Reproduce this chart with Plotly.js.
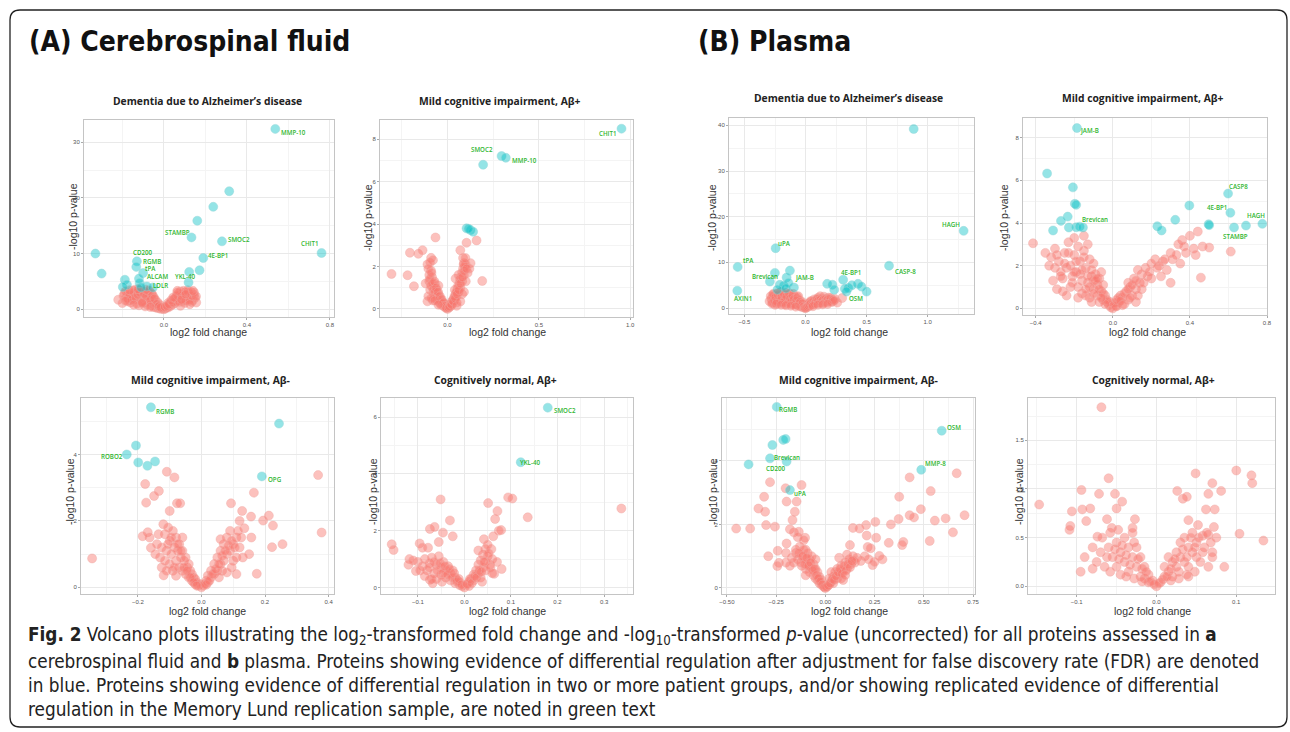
<!DOCTYPE html>
<html><head><meta charset="utf-8">
<script src="https://cdn.plot.ly/plotly-3.0.1.min.js"></script>
<style>html,body{margin:0;padding:0;background:#fff}#chart{width:1290px;height:732px}</style>
</head><body><div id="chart"></div>
<script>
// ---------------- DATA ----------------
const panelTitles = ["Dementia due to Alzheimer\u2019s disease","Mild cognitive impairment, A\u03b2+","Mild cognitive impairment, A\u03b2-","Cognitively normal, A\u03b2+",
                     "Dementia due to Alzheimer\u2019s disease","Mild cognitive impairment, A\u03b2+","Mild cognitive impairment, A\u03b2-","Cognitively normal, A\u03b2+"];
const headerA = "(A) Cerebrospinal fluid";
const headerB = "(B) Plasma";
const xTitle = "log2 fold change";
const yTitle = "-log10 p-value";

// Panel 1: CSF, Dementia
const p1_blue_x = [0.537,0.315,0.238,0.161,0.133,0.28,0.76,0.19,0.172,0.122,0.119,-0.33,-0.30,-0.13,-0.133,-0.10,-0.12,-0.117,-0.188,-0.178,-0.198,-0.082,-0.053,-0.11];
const p1_blue_y = [32.4,21.2,18.4,15.9,12.9,12.2,10.1,9.2,7.0,6.7,4.8,10.0,6.4,8.6,7.6,6.5,5.5,4.7,5.3,4.4,4.0,4.1,3.9,3.9];
const p1_red_x = [-0.22,-0.165,0.156,-0.19,-0.18,-0.17,-0.16,-0.15,-0.15,-0.14,-0.13,-0.13,-0.12,-0.12,-0.11,-0.11,-0.10,-0.10,-0.09,-0.09,-0.08,-0.08,-0.08,-0.07,-0.07,-0.06,-0.06,-0.06,-0.05,-0.05,-0.05,-0.04,-0.04,-0.04,-0.03,-0.03,-0.03,-0.02,-0.02,-0.01,-0.01,0,0.005,0.01,0.015,0.02,0.02,0.03,0.03,0.04,0.04,0.05,0.05,0.06,0.06,0.07,0.07,0.08,0.08,0.09,0.09,0.10,0.10,0.11,0.11,0.12,0.12,0.13,0.13,0.14,0.145,0.15,-0.2,-0.12,-0.09,0.08,0.1,-0.175,0.02,-0.02,-0.14,-0.07,0.115,0.065,-0.155,0.135];
const p1_red_y = [1.7,1.6,1.2,2.8,2.2,3.0,1.2,2.5,3.3,1.8,2.9,1.0,2.3,3.4,1.5,2.8,2.0,3.2,1.2,2.5,0.8,1.9,3.0,1.4,2.4,0.6,1.8,2.8,0.4,1.2,2.2,0.3,0.9,1.6,0.2,0.6,1.2,0.1,0.4,0.05,0.25,0.0,0.1,0.2,0.4,0.3,0.7,0.5,1.0,0.8,1.4,1.0,1.8,1.4,2.3,1.6,2.8,2.0,3.2,1.5,2.6,2.0,3.0,1.7,2.4,2.8,1.9,2.2,3.1,1.6,2.6,2.0,1.1,0.7,0.5,0.6,1.1,1.4,1.1,0.8,3.5,3.3,3.4,3.0,2.0,1.3];
const p1_red2_x = [-0.195,-0.185,-0.175,-0.165,-0.155,-0.145,-0.135,-0.125,-0.115,-0.105,-0.095,-0.085,-0.075,-0.065,-0.055,-0.045,-0.035,-0.025,-0.015,0.005,0.015,0.025,0.035,0.045,0.055,0.065,0.075,0.085,0.095,0.105,0.115,0.125,0.135,0.145,0.155,-0.185,-0.145,-0.105,-0.065,0.045,0.085,0.125,-0.165,-0.125,-0.085,0.065,0.105,0.14];
const p1_red2_y = [2.4,3.2,1.9,2.7,1.7,3.0,2.1,2.6,3.0,1.3,2.8,2.3,3.3,1.6,2.6,1.9,0.9,0.5,0.3,0.4,0.6,0.9,1.6,1.2,2.0,2.5,1.3,2.4,3.3,1.5,3.2,1.6,2.4,3.0,2.3,1.5,0.8,1.1,0.4,2.1,1.7,0.9,3.4,3.6,3.5,3.3,2.7,3.3];
const p1_lab = ["MMP-10","STAMBP","SMOC2","CHIT1","4E-BP1","YKL-40","CD200","RGMB","tPA","ALCAM","LDLR"];
const p1_lab_x = [0.627,0.064,0.36,0.705,0.262,0.102,-0.101,-0.056,-0.066,-0.03,-0.018];
const p1_lab_y = [31.7,13.8,12.5,11.8,9.6,5.9,10.1,8.6,7.3,5.9,4.3];

// Panel 2: CSF, MCI Ab+
const p2_blue_x = [0.953,0.296,0.319,0.195,0.104,0.126,0.14,0.115];
const p2_blue_y = [8.5,7.21,7.13,6.8,3.8,3.72,3.64,3.78];
const p2_red_x = [-0.307,-0.219,-0.184,-0.206,-0.16,-0.137,-0.066,-0.09,-0.08,-0.11,0.104,0.159,0.07,0.09,0.126,0.11,0.044,0.19,-0.09,-0.1,-0.095,-0.085,-0.08,-0.075,-0.07,-0.065,-0.06,-0.055,-0.05,-0.045,-0.04,-0.035,-0.03,-0.025,-0.02,-0.015,-0.01,0,0.01,0.015,0.02,0.025,0.03,0.035,0.04,0.045,0.05,0.055,0.06,0.065,0.07,0.075,0.08,0.085,0.09,0.095,0.1,0.085,0.06,-0.1,-0.12,-0.11,-0.08,0.05,-0.05,0.04,0.1,0.12,-0.095,-0.105,0.08];
const p2_red_y = [1.65,1.59,1.07,2.65,2.6,2.77,3.37,2.41,2.3,0.36,3.12,3.23,2.77,2.16,2.16,1.7,1.43,1.32,1.8,1.3,0.9,1.5,1.0,0.7,1.2,0.5,0.9,0.4,0.7,0.3,0.5,0.2,0.35,0.15,0.25,0.1,0.05,0,0.08,0.2,0.15,0.35,0.3,0.5,0.45,0.7,0.6,0.95,0.8,1.2,1.0,1.5,1.3,1.9,1.6,2.0,2.1,2.4,1.6,1.6,1.2,2.1,0.4,0.3,1.1,0.9,1.3,1.9,2.2,0.6,0.7];
const p2_red2_x = [-0.105,-0.098,-0.092,-0.088,-0.083,-0.078,-0.072,-0.068,-0.062,-0.058,-0.052,-0.048,-0.042,-0.038,-0.032,-0.028,-0.022,-0.018,-0.012,-0.006,0.006,0.012,0.018,0.022,0.028,0.032,0.038,0.042,0.048,0.052,0.058,0.062,0.068,0.072,0.078,0.082,0.088,0.092,0.098,0.105,-0.09,-0.07,-0.05,0.05,0.07,0.09];
const p2_red2_y = [1.9,1.4,1.1,1.7,1.2,0.9,1.3,0.8,1.0,0.6,0.8,0.45,0.6,0.35,0.45,0.25,0.3,0.15,0.12,0.05,0.06,0.12,0.25,0.2,0.4,0.35,0.6,0.5,0.8,0.7,1.1,0.9,1.4,1.2,1.7,1.5,2.1,1.8,2.4,1.9,0.5,0.4,0.2,0.15,0.35,0.8];
const p2_lab = ["CHIT1","SMOC2","MMP-10"];
const p2_lab_x = [0.88,0.19,0.423];
const p2_lab_y = [8.28,7.53,6.98];

// Panel 3: CSF, MCI Ab-
const p3_blue_x = [-0.159,0.244,-0.206,-0.235,-0.199,-0.17,-0.146,0.19];
const p3_blue_y = [5.42,4.93,4.27,4.0,3.76,3.66,3.79,3.34];
const p3_red_x = [-0.344,0.367,0.378,-0.109,-0.085,-0.177,-0.134,-0.149,-0.174,-0.077,-0.067,-0.1,0.165,0.093,0.128,0.156,0.212,0.194,0.225,0.12,0.135,0.157,0.222,0.255,0.174,-0.169,-0.163,-0.185,-0.159,-0.119,-0.12,-0.115,-0.11,-0.105,-0.1,-0.095,-0.09,-0.085,-0.08,-0.08,-0.075,-0.07,-0.07,-0.065,-0.06,-0.06,-0.055,-0.05,-0.05,-0.045,-0.04,-0.04,-0.035,-0.03,-0.03,-0.025,-0.02,-0.02,-0.015,-0.01,-0.005,0,0.005,0.01,0.015,0.02,0.02,0.03,0.03,0.04,0.04,0.05,0.05,0.06,0.06,0.07,0.07,0.08,0.08,0.09,0.09,0.1,0.1,0.11,0.11,-0.13,-0.09,0.065,0.055,-0.14,-0.125,0.12,0.095,-0.1,-0.06,0.06,0.13,0.15];
const p3_red_y = [0.87,3.38,1.65,3.48,3.31,3.11,2.9,2.75,2.55,2.53,2.53,2.3,2.85,2.53,2.3,2.13,2.16,2.01,1.86,2.0,1.78,1.5,1.21,1.3,0.41,1.66,1.5,1.54,1.19,0.36,1.9,1.6,1.1,1.8,1.4,1.0,1.7,1.2,0.8,1.5,1.1,0.6,1.3,0.9,0.5,1.1,0.8,0.4,0.9,0.6,0.3,0.7,0.5,0.2,0.4,0.3,0.1,0.25,0.15,0.05,0.1,0,0.05,0.1,0.2,0.15,0.35,0.3,0.5,0.4,0.7,0.5,0.9,0.7,1.1,0.8,1.3,1.0,1.5,1.1,1.7,1.3,0.8,1.5,0.9,0.9,0.5,0.5,0.3,1.3,0.6,1.2,0.6,0.7,1.5,1.45,0.9,1.0];
const p3_red2_x = [-0.145,-0.135,-0.125,-0.115,-0.105,-0.095,-0.085,-0.075,-0.065,-0.055,-0.045,-0.035,-0.025,-0.015,0.015,0.025,0.035,0.045,0.055,0.065,0.075,0.085,0.095,0.105,0.115,0.125,-0.11,-0.08,0.08,0.11];
const p3_red2_y = [1.0,1.6,1.2,0.8,1.3,1.5,0.6,1.3,1.1,0.6,0.5,0.3,0.15,0.05,0.08,0.2,0.4,0.55,0.7,0.95,1.1,1.25,1.4,1.2,1.7,1.5,0.5,0.35,0.45,0.4];
const p3_lab = ["RGMB","ROBO2","OPG"];
const p3_lab_x = [-0.114,-0.282,0.231];
const p3_lab_y = [5.28,3.93,3.25];

// Panel 4: CSF, CN Ab+
const p4_blue_x = [0.179,0.121];
const p4_blue_y = [6.33,4.41];
const p4_red_x = [0.337,0.094,0.103,0.136,0.051,-0.051,0.071,0.066,0.079,0.074,0.062,-0.156,-0.152,-0.118,-0.104,-0.074,-0.096,-0.078,-0.074,-0.064,-0.031,-0.046,-0.025,0.064,0.042,0.058,-0.1,-0.09,-0.085,-0.08,-0.075,-0.07,-0.065,-0.06,-0.055,-0.05,-0.05,-0.045,-0.04,-0.04,-0.035,-0.03,-0.03,-0.025,-0.02,-0.02,-0.015,-0.01,-0.01,-0.005,0,0.005,0.01,0.01,0.015,0.02,0.02,0.025,0.03,0.03,0.035,0.04,0.04,0.045,0.045,0.05,0.05,0.055,0.06,0.035,-0.06,-0.12,-0.07,0.07,0.08,-0.055,-0.09,-0.11,0.03];
const p4_red_y = [2.78,3.17,3.13,2.47,2.97,3.1,2.69,2.41,2.02,2.0,1.8,1.52,1.32,1.0,0.58,0.27,1.55,1.4,2.06,2.13,2.36,1.93,1.8,0.48,1.7,1.35,0.9,0.75,1.0,0.6,0.85,1.05,0.5,0.8,1.1,0.45,0.7,0.9,0.35,0.6,0.75,0.25,0.5,0.6,0.15,0.35,0.25,0.08,0.18,0.05,0,0.1,0.2,0.05,0.3,0.25,0.45,0.6,0.5,0.8,0.95,0.7,1.15,1.35,0.9,1.5,1.1,0.8,1.0,0.35,0.3,0.8,0.3,0.9,0.65,1.6,1.4,0.95,1.3];
const p4_red2_x = [-0.095,-0.085,-0.075,-0.065,-0.058,-0.052,-0.046,-0.042,-0.036,-0.032,-0.026,-0.022,-0.016,-0.012,-0.006,0.006,0.012,0.016,0.022,0.026,0.032,0.036,0.042,0.046,0.052,0.056,-0.068,-0.048,0.038,0.06];
const p4_red2_y = [0.6,0.4,0.7,0.9,0.6,0.85,0.5,0.75,0.45,0.65,0.35,0.5,0.2,0.3,0.1,0.12,0.3,0.15,0.4,0.35,0.6,0.55,0.9,0.6,1.2,0.7,0.15,0.2,0.2,0.5];
const p4_lab = ["SMOC2","YKL-40"];
const p4_lab_x = [0.217,0.143];
const p4_lab_y = [6.23,4.39];

// Panel 5: Plasma, Dementia
const p5_blue_x = [0.886,1.295,0.684,-0.245,-0.556,-0.559,-0.251,-0.128,-0.155,-0.292,-0.21,-0.18,-0.095,-0.14,0.308,0.177,0.22,0.235,0.322,0.35,0.43,0.458,0.5,0.38,-0.23,-0.16,0.335];
const p5_blue_y = [39.2,16.9,9.27,13.1,9.0,3.8,7.7,8.2,6.7,5.8,5.1,4.9,4.5,5.5,6.2,5.3,5.1,4.0,4.2,4.4,5.3,4.7,3.6,5.0,4.0,4.3,3.6];
const p5_red_x = [-0.265,-0.25,0.30,-0.28,-0.27,-0.26,-0.24,-0.23,-0.22,-0.21,-0.2,-0.19,-0.18,-0.17,-0.17,-0.16,-0.15,-0.14,-0.13,-0.13,-0.12,-0.11,-0.1,-0.1,-0.09,-0.09,-0.08,-0.07,-0.07,-0.06,-0.06,-0.05,-0.05,-0.04,-0.04,-0.03,-0.03,-0.02,-0.02,-0.01,-0.01,0,0.01,0.01,0.02,0.02,0.03,0.03,0.04,0.05,0.05,0.06,0.07,0.07,0.08,0.09,0.1,0.1,0.11,0.12,0.13,0.14,0.15,0.16,0.17,0.18,0.19,0.2,0.22,0.24,0.26,-0.25,-0.15,0.12,-0.2,-0.11,0.04];
const p5_red_y = [2.9,0.7,2.2,2.0,1.2,2.6,1.8,3.2,1.0,2.4,3.5,1.6,2.9,0.8,2.2,3.3,1.4,2.6,1.9,3.0,1.1,2.3,1.6,3.1,0.9,2.5,1.4,2.0,0.7,1.2,2.6,0.5,1.7,1.0,0.3,0.6,1.4,0.2,0.8,0.1,0.4,0,0.15,0.5,0.3,0.8,0.5,1.1,0.7,0.9,1.5,1.1,1.3,1.9,1.0,1.6,1.2,2.2,1.8,1.4,2.0,1.1,2.5,1.6,2.1,1.3,2.3,1.8,1.5,2.0,1.2,2.2,2.0,2.6,1.3,0.8,1.5];
const p5_red2_x = [-0.295,-0.285,-0.275,-0.265,-0.255,-0.245,-0.235,-0.225,-0.215,-0.205,-0.195,-0.185,-0.175,-0.165,-0.155,-0.145,-0.135,-0.125,-0.115,-0.105,-0.095,-0.085,-0.075,-0.065,-0.055,-0.045,-0.035,-0.025,-0.015,-0.005,0.005,0.015,0.025,0.035,0.045,0.055,0.065,0.075,0.085,0.095,0.105,0.115,0.125,0.135,0.145,0.155,0.165,0.175,0.185,0.195,0.205,0.215,0.225,0.235,-0.24,-0.2,-0.16,-0.12,-0.08,0.06,0.1,0.14,0.18];
const p5_red2_y = [1.5,2.6,1.0,3.1,1.6,2.4,1.4,2.8,3.4,1.7,2.5,1.2,3.0,1.9,2.6,1.0,3.2,2.1,1.5,2.7,1.9,0.8,1.6,2.4,0.9,1.3,0.4,1.0,0.3,0.05,0.1,0.3,0.55,0.8,1.1,0.7,1.5,1.0,1.4,2.0,1.6,1.1,1.9,1.5,1.8,1.2,2.0,1.7,1.9,1.5,2.2,1.3,1.8,1.6,0.9,0.7,0.6,0.5,0.3,0.4,0.7,0.8,0.9];
const p5_lab = ["HAGH","CASP-8","uPA","tPA","Brevican","JAM-B","4E-BP1","OSM","AXIN1"];
const p5_lab_x = [1.194,0.82,-0.175,-0.469,-0.333,-0.005,0.376,0.417,-0.51];
const p5_lab_y = [18.4,8.0,14.2,10.4,6.8,6.6,7.8,2.2,2.2];

// Panel 6: Plasma, MCI Ab+
const p6_blue_x = [-0.186,-0.341,-0.207,-0.197,-0.19,-0.234,-0.269,-0.31,-0.228,-0.19,-0.172,-0.155,0.397,0.324,0.231,0.253,0.598,0.61,0.497,0.5,0.629,0.691,0.776];
const p6_blue_y = [8.45,6.32,5.67,4.9,4.85,4.3,4.1,3.65,3.79,3.8,3.83,3.79,4.82,4.15,3.85,3.65,5.38,4.48,3.94,3.9,3.79,3.88,3.96];
const p6_red_x = [-0.414,0.612,0.457,0.441,0.40,0.36,0.34,0.466,0.5,0.42,0.3,0.31,0.43,0.26,0.22,0.24,0.2,0.17,0.15,0.13,0.18,0.11,0.14,0.09,0.12,0.07,0.1,0.05,0.08,0.03,0.06,0.02,0.04,0.2,0.28,0.35,0.38,-0.35,-0.32,-0.3,-0.28,-0.26,-0.25,-0.24,-0.23,-0.22,-0.21,-0.2,-0.2,-0.19,-0.18,-0.17,-0.16,-0.15,-0.14,-0.13,-0.13,-0.12,-0.11,-0.1,-0.1,-0.09,-0.08,-0.08,-0.07,-0.06,-0.05,-0.05,-0.04,-0.03,-0.02,-0.01,0,-0.29,-0.26,-0.22,-0.16,-0.12,-0.3,-0.27,-0.15,-0.18,-0.06,0.01,0.015,-0.015,-0.1,-0.14,-0.11,-0.07,0.03,0.08,0.12,0.15,0.25,0.3,0.13];
const p6_red_y = [3.05,2.66,1.44,3.6,3.4,3.2,3.0,2.9,2.85,2.8,2.6,2.3,2.5,2.2,2.3,2.0,2.1,1.9,1.6,1.8,1.5,1.4,1.2,1.0,0.9,0.8,0.6,0.5,0.4,0.3,0.2,0.1,0.6,1.4,1.8,2.1,2.6,2.6,2.4,2.8,2.2,1.4,2.6,1.9,3.1,2.0,1.5,2.5,3.3,1.7,2.9,2.2,1.3,2.7,1.9,3.0,1.2,2.3,1.5,2.1,0.9,1.6,1.1,0.6,1.4,0.8,1.1,0.4,0.6,0.3,0.15,0.05,0,0.9,0.8,1.0,0.7,0.5,1.9,1.5,3.4,1.0,1.7,0.25,0.1,0.3,1.3,0.6,0.3,0.3,0.5,1.2,0.3,0.9,1.5,1.2,0.6];
const p6_red2_x = [-0.33,-0.31,-0.29,-0.27,-0.25,-0.23,-0.21,-0.19,-0.17,-0.15,-0.13,-0.11,-0.09,-0.07,-0.05,-0.03,-0.24,-0.2,-0.16,-0.12,-0.08,-0.04,-0.18,-0.14,-0.1,-0.06,0.02,0.04,0.06,0.08,0.1,0.12,0.16,0.19,0.23,0.27,0.33,0.37,0.05,0.09];
const p6_red2_y = [2.0,1.3,2.5,1.7,2.1,2.6,1.2,2.2,1.6,2.4,1.5,1.8,1.3,0.9,0.7,0.4,0.6,1.7,1.8,1.0,1.4,0.2,0.5,0.9,0.7,0.5,0.4,0.35,0.7,0.9,1.1,1.3,1.2,1.7,1.9,2.3,2.5,2.9,0.15,0.5];
const p6_lab = ["JAM-B","CASP8","4E-BP1","HAGH","STAMBP","Brevican"];
const p6_lab_x = [-0.121,0.652,0.543,0.741,0.634,-0.095];
const p6_lab_y = [8.33,5.71,4.73,4.35,3.35,4.18];

// Panel 7: Plasma, MCI Ab-
const p7_blue_x = [-0.247,0.591,-0.269,-0.214,-0.202,-0.281,-0.197,-0.39,0.487,-0.18];
const p7_blue_y = [5.7,4.95,4.5,4.66,4.69,4.08,3.98,3.89,3.72,3.08];
const p7_red_x = [-0.281,-0.311,-0.34,-0.306,-0.453,-0.382,-0.301,-0.256,-0.202,-0.121,-0.197,-0.146,-0.155,-0.167,-0.18,-0.16,-0.135,-0.103,-0.29,-0.242,-0.236,-0.244,-0.197,-0.17,-0.2,-0.15,-0.1,0.667,0.428,0.535,0.375,0.485,0.707,0.611,0.556,0.428,0.45,0.372,0.333,0.254,0.648,0.53,0.396,0.39,0.322,0.258,0.14,0.173,0.207,0.21,0.215,0.23,0.125,0.274,0.29,0.24,0.25,0.07,0.11,0.14,-0.15,-0.14,-0.13,-0.12,-0.12,-0.11,-0.1,-0.1,-0.09,-0.09,-0.08,-0.08,-0.07,-0.07,-0.06,-0.06,-0.05,-0.05,-0.04,-0.04,-0.03,-0.03,-0.02,-0.02,-0.01,0,0.01,0.02,0.02,0.03,0.04,0.04,0.05,0.06,0.06,0.07,0.08,0.08,0.09,0.1,0.11,0.12,0.13,0.14,0.15,0.16,0.18,0.2,0.22,-0.16,-0.18,-0.2,-0.14,-0.11,0.09,-0.05,0.03];
const p7_red_y = [3.33,2.87,2.5,2.4,1.87,1.87,1.98,1.93,3.14,3.24,2.72,2.72,2.4,2.14,1.85,1.75,1.77,1.58,1.0,1.17,0.79,0.69,1.4,0.95,0.8,1.1,1.2,3.61,3.48,3.05,2.87,2.48,2.29,2.19,2.12,2.29,2.22,2.17,2.0,2.08,1.75,1.48,1.45,1.35,1.42,1.58,1.89,1.87,1.98,1.65,1.29,1.25,1.35,1.01,0.9,0.72,0.82,0.95,1.05,0.85,1.2,0.9,1.3,1.0,0.7,1.2,0.9,0.6,1.1,0.7,0.5,0.9,0.6,1.0,0.4,0.75,0.3,0.6,0.25,0.5,0.15,0.35,0.1,0.25,0.05,0,0.05,0.12,0.3,0.2,0.35,0.15,0.5,0.3,0.6,0.45,0.7,0.3,0.55,0.8,0.6,0.9,0.75,1.0,0.8,0.95,0.85,1.0,0.9,0.8,0.7,1.1,1.6,1.5,0.25,0.9,0.5];
const p7_red2_x = [-0.135,-0.125,-0.115,-0.105,-0.095,-0.085,-0.075,-0.065,-0.055,-0.045,-0.035,-0.025,-0.015,-0.005,0.005,0.015,0.025,0.035,0.045,0.055,0.065,0.075,0.085,0.095,0.105,0.115,0.125,0.135,-0.1,0.1];
const p7_red2_y = [1.1,0.8,1.0,0.75,0.95,0.7,0.8,0.55,0.6,0.4,0.3,0.2,0.1,0.02,0.03,0.08,0.15,0.28,0.25,0.38,0.5,0.6,0.45,0.7,0.55,0.75,0.65,0.85,0.4,0.4];
const p7_lab = ["RGMB","OSM","Brevican","CD200","MMP-8","uPA"];
const p7_lab_x = [-0.189,0.653,-0.197,-0.251,0.557,-0.125];
const p7_lab_y = [5.63,5.06,4.1,3.77,3.93,2.98];

// Panel 8: Plasma, CN Ab+ (no FDR-significant proteins)
const p8_blue_x = [];
const p8_blue_y = [];
const p8_red_x = [-0.069,-0.147,-0.106,-0.094,-0.093,-0.083,-0.088,-0.108,-0.109,-0.074,-0.06,-0.072,-0.052,-0.043,-0.05,-0.062,-0.027,0.049,0.1,0.119,0.12,0.07,0.081,0.065,0.026,0.033,0.038,0.062,0.073,0.04,0.052,0.072,0.104,0.134,0.065,0.075,0.07,-0.08,-0.09,-0.095,-0.03,0.085,-0.06,-0.055,-0.05,-0.05,-0.045,-0.04,-0.04,-0.035,-0.035,-0.03,-0.03,-0.025,-0.025,-0.02,-0.02,-0.015,-0.015,-0.01,-0.01,-0.005,0,0.005,0.01,0.01,0.015,0.015,0.02,0.02,0.025,0.025,0.03,0.03,0.035,0.035,0.04,0.04,0.045,0.045,0.05,0.05,0.055,0.06,-0.065,-0.07,0.065,-0.045,0.04,-0.08,0.07,0.058,-0.058];
const p8_red_y = [1.84,0.84,0.77,0.99,0.79,0.8,0.67,0.62,0.58,0.51,1.11,0.95,0.95,0.87,0.8,0.69,0.69,1.16,1.19,1.14,1.06,1.06,0.98,0.95,0.98,0.9,0.92,0.79,0.79,0.68,0.63,0.61,0.54,0.47,0.53,0.5,0.35,0.4,0.3,0.15,0.6,0.2,0.4,0.3,0.45,0.2,0.35,0.5,0.25,0.4,0.15,0.3,0.55,0.2,0.4,0.1,0.3,0.2,0.08,0.12,0.04,0.06,0,0.04,0.1,0.2,0.15,0.3,0.25,0.1,0.35,0.2,0.3,0.45,0.25,0.5,0.4,0.2,0.35,0.55,0.3,0.45,0.25,0.4,0.2,0.35,0.2,0.12,0.1,0.18,0.3,0.52,0.55];
const p8_red2_x = [-0.075,-0.068,-0.062,-0.056,-0.052,-0.047,-0.043,-0.038,-0.033,-0.028,-0.023,-0.018,-0.013,-0.008,-0.003,0.003,0.008,0.013,0.018,0.023,0.028,0.033,0.038,0.043,0.048,0.053,0.058,0.063,0.068,-0.038,-0.028,-0.018,0.018,0.028,0.038,0.048,-0.048,-0.058];
const p8_red2_y = [0.25,0.5,0.3,0.6,0.38,0.28,0.42,0.32,0.22,0.45,0.28,0.18,0.15,0.05,0.02,0.03,0.07,0.1,0.18,0.28,0.15,0.38,0.3,0.5,0.4,0.5,0.35,0.55,0.45,0.1,0.08,0.05,0.06,0.08,0.12,0.15,0.58,0.15];
const p8_lab = [];
const p8_lab_x = [];
const p8_lab_y = [];

const captionLines = [
  "<b>Fig. 2</b> Volcano plots illustrating the log<sub>2</sub>-transformed fold change and -log<sub>10</sub>-transformed <i>p</i>-value (uncorrected) for all proteins assessed in <b>a</b>",
  "cerebrospinal fluid and <b>b</b> plasma. Proteins showing evidence of differential regulation after adjustment for false discovery rate (FDR) are denoted",
  "in blue. Proteins showing evidence of differential regulation in two or more patient groups, and/or showing replicated evidence of differential",
  "regulation in the Memory Lund replication sample, are noted in green text"
];

// ---------------- LAYOUT / STYLE ----------------
const W = 1290, H = 732;
const panels = [
  {rx:p1_red_x.concat(p1_red2_x), ry:p1_red_y.concat(p1_red2_y), bx:p1_blue_x, by:p1_blue_y, lab:p1_lab, lx:p1_lab_x, ly:p1_lab_y,
   px:[84,334], py:[120,317], xr:[-0.385,0.82], yr:[-1.4,34], xd:0.4, yd:10, xf:'.1f', yf:'d', title:[207,101], xt:[208,332], yt:[73,217]},
  {rx:p2_red_x.concat(p2_red2_x), ry:p2_red_y.concat(p2_red2_y), bx:p2_blue_x, by:p2_blue_y, lab:p2_lab, lx:p2_lab_x, ly:p2_lab_y,
   px:[380,633], py:[120,317], xr:[-0.37,1.016], yr:[-0.38,8.91], xd:0.5, yd:2, xf:'.1f', yf:'d', title:[500,101], xt:[507,332], yt:[368,218]},
  {rx:p3_red_x.concat(p3_red2_x), ry:p3_red_y.concat(p3_red2_y), bx:p3_blue_x, by:p3_blue_y, lab:p3_lab, lx:p3_lab_x, ly:p3_lab_y,
   px:[81,334], py:[398,594], xr:[-0.379,0.417], yr:[-0.2,5.7], xd:0.2, yd:2, xf:'.1f', yf:'d', title:[210,380], xt:[207,611], yt:[70,492]},
  {rx:p4_red_x.concat(p4_red2_x), ry:p4_red_y.concat(p4_red2_y), bx:p4_blue_x, by:p4_blue_y, lab:p4_lab, lx:p4_lab_x, ly:p4_lab_y,
   px:[381,633], py:[398,594], xr:[-0.179,0.362], yr:[-0.23,6.67], xd:0.1, yd:2, xf:'.1f', yf:'d', title:[495,380], xt:[507,611], yt:[373,492]},
  {rx:p5_red_x.concat(p5_red2_x), ry:p5_red_y.concat(p5_red2_y), bx:p5_blue_x, by:p5_blue_y, lab:p5_lab, lx:p5_lab_x, ly:p5_lab_y,
   px:[729,974], py:[118,314], xr:[-0.627,1.38], yr:[-1.3,41.6], xd:0.5, yd:10, xf:'.1f', yf:'d', title:[848,98], xt:[850,332], yt:[712,218]},
  {rx:p6_red_x.concat(p6_red2_x), ry:p6_red_y.concat(p6_red2_y), bx:p6_blue_x, by:p6_blue_y, lab:p6_lab, lx:p6_lab_x, ly:p6_lab_y,
   px:[1023,1267], py:[118,315], xr:[-0.466,0.80], yr:[-0.31,8.92], xd:0.4, yd:2, xf:'.1f', yf:'d', title:[1143,98], xt:[1147,332], yt:[1004,218]},
  {rx:p7_red_x.concat(p7_red2_x), ry:p7_red_y.concat(p7_red2_y), bx:p7_blue_x, by:p7_blue_y, lab:p7_lab, lx:p7_lab_x, ly:p7_lab_y,
   px:[722,975], py:[398,594], xr:[-0.525,0.76], yr:[-0.19,5.98], xd:0.25, yd:2, xf:'.2f', yf:'d', title:[858,380], xt:[850,611], yt:[713,492]},
  {rx:p8_red_x.concat(p8_red2_x), ry:p8_red_y.concat(p8_red2_y), bx:p8_blue_x, by:p8_blue_y, lab:p8_lab, lx:p8_lab_x, ly:p8_lab_y,
   px:[1028,1275], py:[398,594], xr:[-0.161,0.1485], yr:[-0.079,1.935], xd:0.1, yd:0.5, xf:'.1f', yf:'.1f', title:[1153,380], xt:[1152,611], yt:[1019,492]}
];

const RED = 'rgba(248,118,109,0.45)';
const BLUE = 'rgba(0,191,196,0.42)';
const GREEN = '#2fb62f';
const traces = [], annotations = [], shapes = [];
const layout = {width:W, height:H, margin:{l:0,r:0,t:0,b:0}, paper_bgcolor:'#fff', plot_bgcolor:'#fff', showlegend:false};

function axisCommon(){
  return {showgrid:true, gridcolor:'#e9e9e9', gridwidth:1, zeroline:false, showline:true, mirror:true,
          linecolor:'#c4c4c4', linewidth:1, ticks:'outside', ticklen:2, tickcolor:'#aaa', tickwidth:1,
          tickfont:{family:'Liberation Sans, Arial, sans-serif', size:6, color:'#555'}, fixedrange:true, tick0:0};
}

panels.forEach((p,i)=>{
  const n = i+1, xa = 'xaxis'+(n===1?'':n), ya = 'yaxis'+(n===1?'':n);
  const xr = 'x'+(n===1?'':n), yr = 'y'+(n===1?'':n);
  layout[xa] = Object.assign(axisCommon(), {domain:[p.px[0]/W, p.px[1]/W], range:p.xr, dtick:p.xd, tickformat:p.xf, anchor:yr,
      minor:{dtick:p.xd/2, tick0:0, showgrid:true, gridcolor:'#f4f4f4', gridwidth:1, ticks:''}});
  layout[ya] = Object.assign(axisCommon(), {domain:[1-p.py[1]/H, 1-p.py[0]/H], range:p.yr, dtick:p.yd, tickformat:p.yf, anchor:xr,
      minor:{dtick:p.yd/2, tick0:0, showgrid:true, gridcolor:'#f4f4f4', gridwidth:1, ticks:''}});
  traces.push({type:'scatter', mode:'markers', x:p.rx, y:p.ry, xaxis:xr, yaxis:yr, hoverinfo:'skip', cliponaxis:false,
      marker:{size:9, color:RED, line:{width:0.8, color:'rgba(240,170,165,0.55)'}}});
  if (p.bx.length) traces.push({type:'scatter', mode:'markers', x:p.bx, y:p.by, xaxis:xr, yaxis:yr, hoverinfo:'skip', cliponaxis:false,
      marker:{size:9, color:BLUE, line:{width:0.8, color:'rgba(150,215,218,0.6)'}}});
  p.lab.forEach((t,j)=>{
    annotations.push({text:t, x:p.lx[j], y:p.ly[j], xref:xr, yref:yr, showarrow:false,
      font:{family:'Open Sans, sans-serif', size:6.2, color:GREEN, weight:600}});
  });
  annotations.push({text:'<b>'+panelTitles[i]+'</b>', x:p.title[0]/W, y:1-p.title[1]/H, xref:'paper', yref:'paper', showarrow:false,
      xanchor:'center', yanchor:'middle', font:{family:'Open Sans, sans-serif', size:10.3, color:'#222'}});
  annotations.push({text:xTitle, x:p.xt[0]/W, y:1-p.xt[1]/H, xref:'paper', yref:'paper', showarrow:false,
      xanchor:'center', yanchor:'middle', font:{family:'Liberation Sans, Arial, sans-serif', size:10.5, color:'#333'}});
  annotations.push({text:yTitle, x:p.yt[0]/W, y:1-p.yt[1]/H, xref:'paper', yref:'paper', showarrow:false, textangle:-90,
      xanchor:'center', yanchor:'middle', font:{family:'Liberation Sans, Arial, sans-serif', size:10.5, color:'#333'}});
});

const HF = 'Liberation Sans Narrow, DejaVu Sans Condensed, Arial Narrow, sans-serif';
annotations.push({text:'<b>'+headerA+'</b>', x:27/W, y:1-42/H, xref:'paper', yref:'paper', showarrow:false, xanchor:'left', yanchor:'middle',
  font:{family:HF, size:28, color:'#111'}});
annotations.push({text:'<b>'+headerB+'</b>', x:696/W, y:1-42/H, xref:'paper', yref:'paper', showarrow:false, xanchor:'left', yanchor:'middle',
  font:{family:HF, size:28, color:'#111'}});
const capY = [636, 661, 685, 709];
captionLines.forEach((t,k)=>{
  annotations.push({text:t, x:26/W, y:1-capY[k]/H, xref:'paper', yref:'paper', showarrow:false, xanchor:'left', yanchor:'middle',
    font:{family:HF, size:18.8, color:'#222'}});
});

// rounded frame
const L=10/W, R=1287/W, T=1-10/H, B=1-727/H, rx=10/W, ry=10/H;
shapes.push({type:'path', xref:'paper', yref:'paper', line:{color:'#222', width:1.3},
  path:`M ${L+rx} ${T} L ${R-rx} ${T} Q ${R} ${T} ${R} ${T-ry} L ${R} ${B+ry} Q ${R} ${B} ${R-rx} ${B} L ${L+rx} ${B} Q ${L} ${B} ${L} ${B+ry} L ${L} ${T-ry} Q ${L} ${T} ${L+rx} ${T} Z`});

layout.annotations = annotations;
layout.shapes = shapes;
Plotly.newPlot('chart', traces, layout, {staticPlot:true, displayModeBar:false});
</script>
</body></html>
